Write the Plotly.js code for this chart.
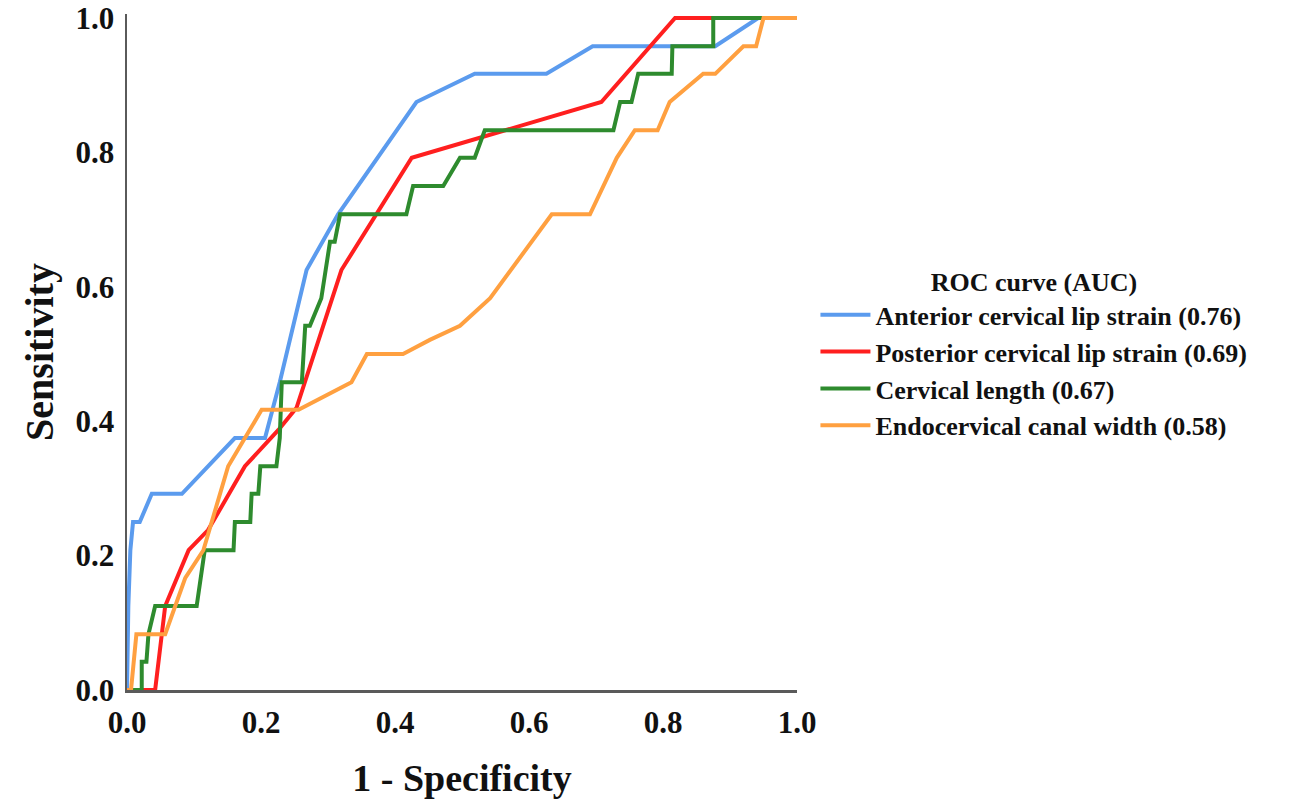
<!DOCTYPE html>
<html>
<head>
<meta charset="utf-8">
<script src="https://cdn.plot.ly/plotly-3.0.1.min.js"></script>
<style>html,body{margin:0;padding:0;background:#fff;}#chart{width:1311px;height:805px;}</style>
</head>
<body>
<div id="chart"></div>
<script>
// Series names
const seriesNames = [
  "Anterior cervical lip strain (0.76)",
  "Posterior cervical lip strain (0.69)",
  "Cervical length (0.67)",
  "Endocervical canal width (0.58)"
];

// Anterior cervical lip strain
const anteriorX = [0, 0.002, 0.005, 0.009, 0.019, 0.037, 0.082, 0.161, 0.206, 0.228, 0.268, 0.315, 0.432, 0.519, 0.626, 0.695, 0.878, 0.942, 1];
const anteriorY = [0, 0.125, 0.208, 0.25, 0.25, 0.292, 0.292, 0.375, 0.375, 0.458, 0.625, 0.708, 0.875, 0.917, 0.917, 0.958, 0.958, 1, 1];

// Posterior cervical lip strain
const posteriorX = [0, 0.042, 0.057, 0.092, 0.121, 0.176, 0.226, 0.253, 0.32, 0.425, 0.708, 0.818, 1];
const posteriorY = [0, 0, 0.125, 0.208, 0.238, 0.333, 0.387, 0.42, 0.625, 0.792, 0.875, 1, 1];

// Cervical length
const cervicalX = [0, 0.022, 0.022, 0.029, 0.032, 0.042, 0.104, 0.116, 0.159, 0.161, 0.184, 0.186, 0.196, 0.199, 0.223, 0.228, 0.231, 0.261, 0.266, 0.273, 0.29, 0.296, 0.303, 0.31, 0.318, 0.417, 0.427, 0.472, 0.497, 0.519, 0.534, 0.726, 0.736, 0.753, 0.763, 0.813, 0.814, 0.875, 0.875, 1];
const cervicalY = [0, 0, 0.042, 0.042, 0.083, 0.125, 0.125, 0.208, 0.208, 0.25, 0.25, 0.292, 0.292, 0.333, 0.333, 0.375, 0.458, 0.458, 0.542, 0.542, 0.583, 0.625, 0.667, 0.667, 0.708, 0.708, 0.75, 0.75, 0.792, 0.792, 0.833, 0.833, 0.875, 0.875, 0.917, 0.917, 0.958, 0.958, 1, 1];

// Endocervical canal width
const endoX = [0, 0.006, 0.014, 0.057, 0.087, 0.114, 0.151, 0.176, 0.201, 0.256, 0.335, 0.358, 0.412, 0.452, 0.497, 0.542, 0.634, 0.691, 0.731, 0.758, 0.792, 0.81, 0.86, 0.878, 0.92, 0.939, 0.95, 1];
const endoY = [0, 0, 0.083, 0.083, 0.167, 0.208, 0.333, 0.375, 0.417, 0.417, 0.458, 0.5, 0.5, 0.521, 0.542, 0.583, 0.708, 0.708, 0.792, 0.833, 0.833, 0.875, 0.917, 0.917, 0.958, 0.958, 1, 1];

// Axis ticks
const tickVals = [0, 0.2, 0.4, 0.6, 0.8, 1.0];
const tickText = ["0.0", "0.2", "0.4", "0.6", "0.8", "1.0"];

const colors = ["#5b9bee", "#ff1f1f", "#2e8b2e", "#ffa040"];
const xs = [anteriorX, posteriorX, cervicalX, endoX];
const ys = [anteriorY, posteriorY, cervicalY, endoY];

const serif = "Liberation Serif, Times New Roman, serif";

const traces = seriesNames.map((name, i) => ({
  type: "scatter",
  mode: "lines",
  name: name,
  x: xs[i],
  y: ys[i],
  line: {color: colors[i], width: 4},
  hoverinfo: "skip"
}));

const layout = {
  width: 1311,
  height: 805,
  paper_bgcolor: "#ffffff",
  plot_bgcolor: "#ffffff",
  margin: {l: 127, r: 514, t: 14, b: 115},
  showlegend: true,
  legend: {
    xref: "container", yref: "container",
    x: 0.622, y: 0.680, xanchor: "left", yanchor: "top",
    font: {family: serif, size: 26, color: "#111", weight: "bold"},
    title: {text: "ROC curve (AUC)", side: "top center", font: {family: serif, size: 26, color: "#111", weight: "bold"}},
    itemwidth: 50,
    bgcolor: "rgba(0,0,0,0)"
  },
  xaxis: {
    range: [0, 1],
    tickvals: tickVals, ticktext: tickText,
    showgrid: false, zeroline: false,
    showline: true, linecolor: "#5a5a5a", linewidth: 2.5,
    ticks: "", ticklabelstandoff: 3,
    tickfont: {family: serif, size: 31, color: "#111", weight: "bold"},
    title: {text: "1 - Specificity", standoff: 26, font: {family: serif, size: 38, color: "#111", weight: "bold"}}
  },
  yaxis: {
    range: [0, 1.006],
    tickvals: tickVals, ticktext: tickText,
    showgrid: false, zeroline: false,
    showline: true, linecolor: "#5a5a5a", linewidth: 2.5,
    ticks: "", ticklabelstandoff: 4,
    tickfont: {family: serif, size: 31, color: "#111", weight: "bold"},
    title: {text: "Sensitivity", standoff: 10, font: {family: serif, size: 40, color: "#111", weight: "bold"}}
  }
};

Plotly.newPlot("chart", traces, layout, {displayModeBar: false, staticPlot: true});
</script>
</body>
</html>
